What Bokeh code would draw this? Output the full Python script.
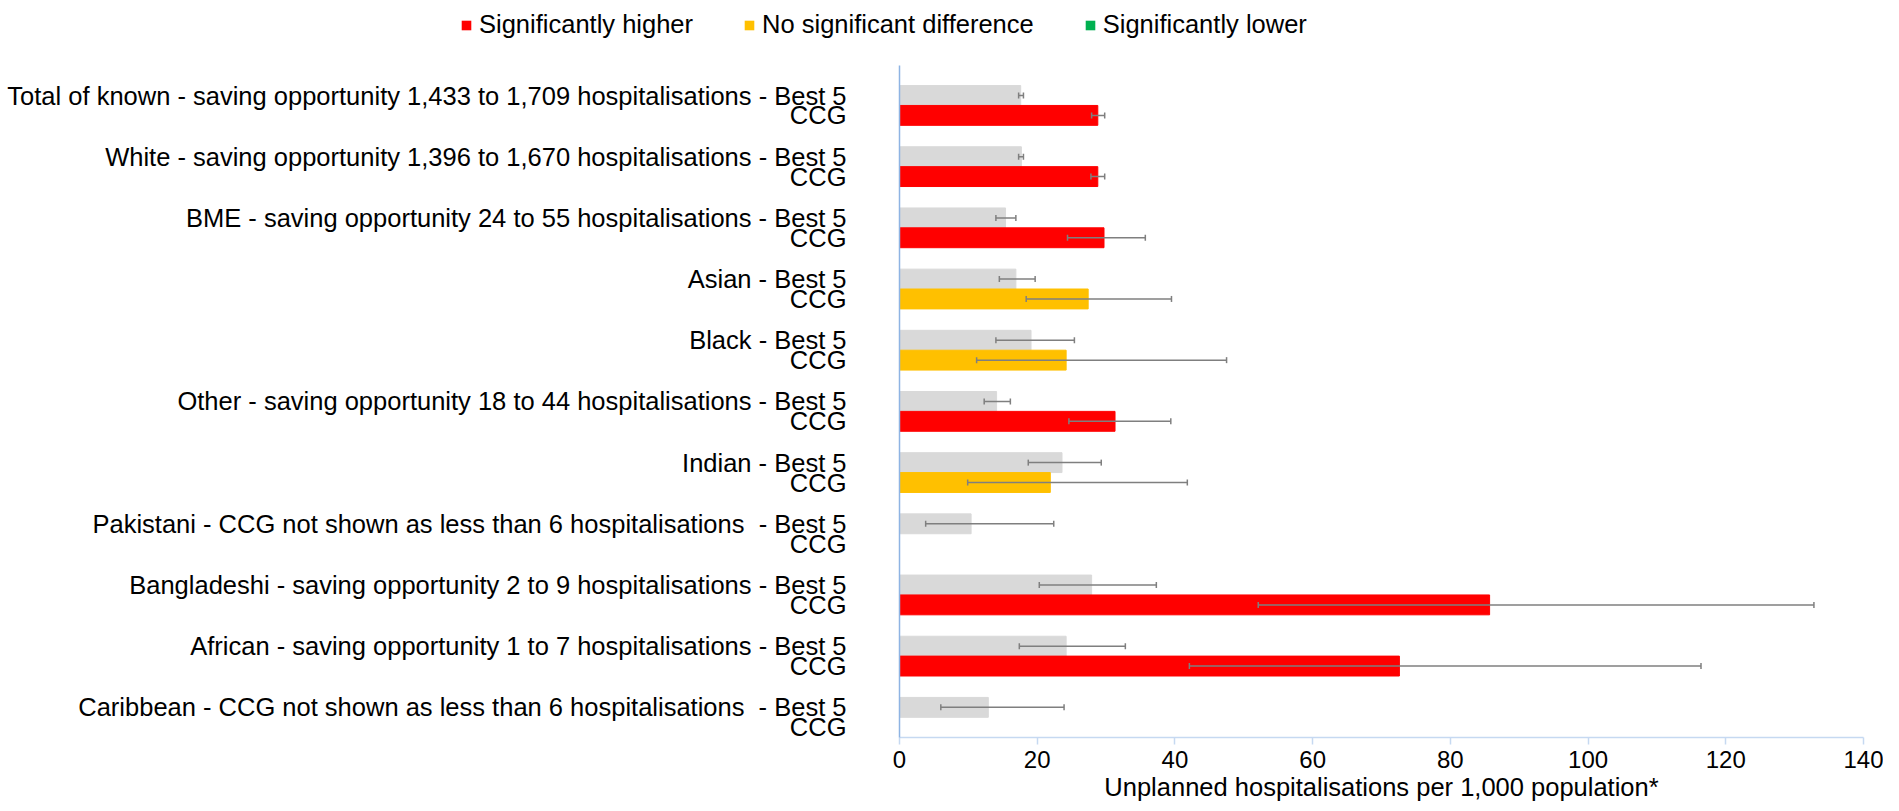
from bokeh.plotting import figure
from bokeh.models import (ColumnDataSource, Range1d, FixedTicker, Whisker, TeeHead,
                          Legend, LegendItem)
from bokeh.embed import file_html
from bokeh.resources import INLINE

# ---------------- data ----------------
groups = [
    "Total of known - saving opportunity 1,433 to 1,709 hospitalisations - Best 5",
    "White - saving opportunity 1,396 to 1,670 hospitalisations - Best 5",
    "BME - saving opportunity 24 to 55 hospitalisations - Best 5",
    "Asian - Best 5",
    "Black - Best 5",
    "Other - saving opportunity 18 to 44 hospitalisations - Best 5",
    "Indian - Best 5",
    "Pakistani - CCG not shown as less than 6 hospitalisations\u00a0 - Best 5",
    "Bangladeshi - saving opportunity 2 to 9 hospitalisations - Best 5",
    "African - saving opportunity 1 to 7 hospitalisations - Best 5",
    "Caribbean - CCG not shown as less than 6 hospitalisations\u00a0 - Best 5",
]
ccg_label = "CCG"

best5 = [17.6, 17.7, 15.4, 16.9, 19.1, 14.1, 23.6, 10.4, 27.9, 24.2, 12.9]
best5_lo = [17.3, 17.3, 14.0, 14.5, 14.0, 12.3, 18.7, 3.8, 20.3, 17.4, 6.0]
best5_hi = [18.0, 18.0, 16.9, 19.7, 25.4, 16.1, 29.3, 22.4, 37.3, 32.8, 23.9]

ccg = [28.8, 28.8, 29.7, 27.4, 24.2, 31.3, 21.9, None, 85.7, 72.6, None]
ccg_lo = [27.9, 27.8, 24.4, 18.4, 11.2, 24.6, 9.9, None, 52.1, 42.1, None]
ccg_hi = [29.8, 29.8, 35.7, 39.5, 47.5, 39.4, 41.8, None, 132.8, 116.4, None]
ccg_sig = ["higher", "higher", "higher", "none", "none", "higher", "none", None,
           "higher", "higher", None]

sig_names = ["higher", "none", "lower"]
sig_labels = ["Significantly higher", "No significant difference", "Significantly lower"]
sig_colors = ["#FF0000", "#FFC000", "#00B050"]

x_ticks = [0, 20, 40, 60, 80, 100, 120, 140]
x_title = "Unplanned hospitalisations per 1,000 population*"

# ---------------- layout helpers ----------------
n = len(groups)
BAR_H = 0.325
OFF = BAR_H / 2
y_best = [i - OFF for i in range(n)]
y_ccg = [i + OFF for i in range(n)]

FONT = "Liberation Sans"
W = 1883
LEG_H = 45
MAIN_H = 758

p = figure(width=W, height=MAIN_H, output_backend="svg", toolbar_location=None,
           x_range=Range1d(0, 140), y_range=Range1d(n - 1 + 0.33, -0.653),
           min_border_left=899, min_border_right=20, min_border_top=20,
           min_border_bottom=0)
p.outline_line_color = None
p.grid.visible = False
p.background_fill_color = "white"
p.border_fill_color = "white"

# grey Best 5 bars
src_best = ColumnDataSource(dict(y=y_best, v=best5, lo=best5_lo, hi=best5_hi))
p.hbar(y="y", left=0, right="v", height=BAR_H, source=src_best,
       fill_color="#D9D9D9", line_color="#D9D9D9")

# CCG bars by significance
for s, c in zip(sig_names, sig_colors):
    idx = [i for i in range(n) if ccg_sig[i] == s]
    src = ColumnDataSource(dict(y=[y_ccg[i] for i in idx], v=[ccg[i] for i in idx]))
    p.hbar(y="y", left=0, right="v", height=BAR_H, source=src,
           fill_color=c, line_color=c)

# error bars
def add_whisker(src):
    w = Whisker(source=src, base="y", lower="lo", upper="hi", dimension="width",
                line_color="#7F7F7F", line_width=1.5, level="overlay",
                upper_head=TeeHead(size=6, line_color="#7F7F7F", line_width=1.5),
                lower_head=TeeHead(size=6, line_color="#7F7F7F", line_width=1.5))
    p.add_layout(w)

add_whisker(src_best)
idx = [i for i in range(n) if ccg[i] is not None]
src_ccg_err = ColumnDataSource(dict(y=[y_ccg[i] for i in idx],
                                    lo=[ccg_lo[i] for i in idx],
                                    hi=[ccg_hi[i] for i in idx]))
add_whisker(src_ccg_err)

# y axis: category labels
yax = p.yaxis[0]
yax.ticker = FixedTicker(ticks=y_best + y_ccg, minor_ticks=[])
overrides = {}
for i in range(n):
    overrides[y_best[i]] = groups[i]
    overrides[y_ccg[i]] = ccg_label
yax.major_label_overrides = overrides
yax.major_tick_line_color = None
yax.minor_tick_line_color = None
yax.major_label_standoff = 47
yax.major_label_text_font = FONT
yax.major_label_text_font_size = "25.5px"
yax.major_label_text_color = "#000000"
yax.axis_line_color = "#8EB4E3"
yax.axis_line_width = 1.5

# x axis
xax = p.xaxis[0]
xax.ticker = FixedTicker(ticks=x_ticks, minor_ticks=[])
xax.axis_line_color = "#C6D9F1"
xax.axis_line_width = 1.5
xax.major_tick_line_color = "#C6D9F1"
xax.major_tick_line_width = 1.5
xax.major_tick_out = 7
xax.major_tick_in = 0
xax.minor_tick_line_color = None
xax.major_label_standoff = 6
xax.major_label_text_font = FONT
xax.major_label_text_font_size = "24px"
xax.major_label_text_color = "#000000"
xax.axis_label = x_title
xax.axis_label_text_font = FONT
xax.axis_label_text_font_size = "25.5px"
xax.axis_label_text_font_style = "normal"
xax.axis_label_text_color = "#000000"
xax.axis_label_standoff = 2

# ---------------- legend strip (separate root, above the chart) ----------------
lg = figure(width=W, height=LEG_H, output_backend="svg", toolbar_location=None,
            x_range=Range1d(0, 1), y_range=Range1d(0, 1),
            x_axis_location=None, y_axis_location=None,
            min_border_left=0, min_border_right=0, min_border_top=0, min_border_bottom=0)
lg.outline_line_color = None
lg.grid.visible = False
# one swatch renderer per category (zero-size glyph, only its legend swatch shows)
swatches = []
for c in sig_colors:
    swatches.append(lg.hbar(y=[0.5], right=[0], left=0, height=0,
                            fill_color=c, line_color=None))
legend = Legend(items=[LegendItem(label=l, renderers=[r]) for l, r in zip(sig_labels, swatches)],
                orientation="horizontal", location=(460, 6),
                glyph_width=12, glyph_height=12, label_standoff=7, spacing=50,
                padding=0, margin=0, border_line_alpha=0, background_fill_alpha=0,
                label_text_font=FONT, label_text_font_size="25.5px",
                label_text_color="#000000")
lg.add_layout(legend, "center")

open("out.html", "w").write(file_html([lg, p], INLINE))
